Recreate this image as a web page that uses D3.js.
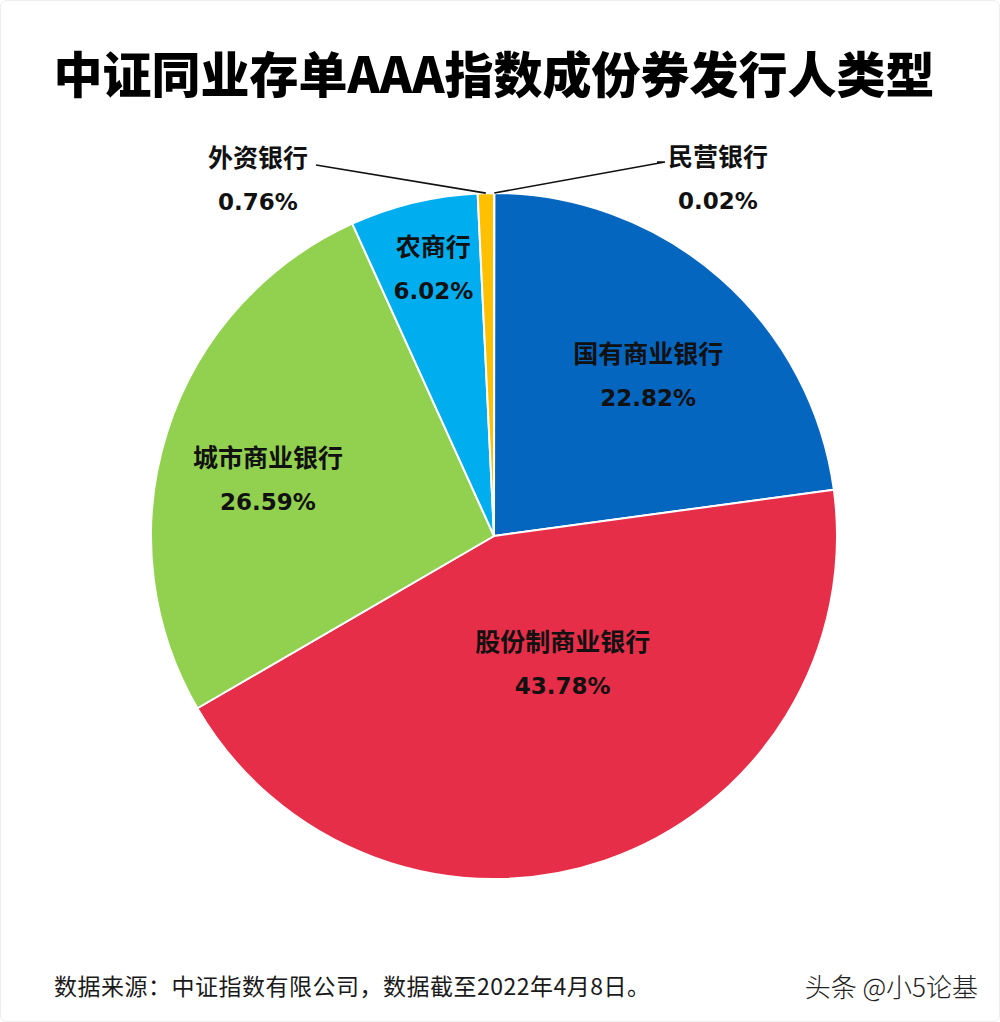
<!DOCTYPE html>
<html>
<head>
<meta charset="utf-8">
<script src="https://cdn.jsdelivr.net/npm/d3@7"></script>
<style>
  html, body { margin: 0; padding: 0; background: #fff; }
  svg { display: block; }
</style>
</head>
<body>
<svg id="chart" width="1000" height="1022"></svg>
<script>
// ---- data ----
const title = "中证同业存单AAA指数成份券发行人类型";
const categories = ["民营银行", "国有商业银行", "股份制商业银行", "城市商业银行", "农商行", "外资银行"];
const values = [0.02, 22.82, 43.78, 26.59, 6.02, 0.76];
const valueLabels = ["0.02%", "22.82%", "43.78%", "26.59%", "6.02%", "0.76%"];
const footnote = "数据来源：中证指数有限公司，数据截至2022年4月8日。";
const watermark = "头条 @小5论基";

// ---- styles / layout ----
const colors = ["#A5A5A5", "#0566BF", "#E62E48", "#92D050", "#00AEEF", "#FFC000"];
const cx = 494, cy = 536, R = 343;
// inside labels: [radius factor, angle shift deg]; outside labels: offset from centre
const labelLayout = [
  { outside: true, dx: 224, dy: -358, line: [[171, -374], [163, -374]] },
  { outside: false, k: 0.65, shift: 2.6 },
  { outside: false, k: 0.42, shift: -9.5 },
  { outside: false, k: 0.68, shift: -3.5 },
  { outside: false, k: 0.80, shift: 0.8 },
  { outside: true, dx: -236, dy: -357, line: [[-178, -371]] }
];

const svg = d3.select("#chart");

// faint frame
svg.append("rect").attr("x", 0.5).attr("y", 0.5).attr("width", 999).attr("height", 1021)
  .attr("rx", 6).attr("fill", "none").attr("stroke", "#ececec");

svg.append("text")
  .attr("x", 494).attr("y", 71)
  .attr("text-anchor", "middle").attr("dominant-baseline", "central")
  .attr("font-family", "'Noto Sans CJK SC', sans-serif")
  .attr("font-weight", 900).attr("font-size", 49).attr("fill", "#000")
  .text(title);

const data = categories.map((c, i) => ({ name: c, value: values[i], label: valueLabels[i], i }));
const pie = d3.pie().sort(null).value(d => d.value);
const arcs = pie(data);
const arc = d3.arc().innerRadius(0).outerRadius(R);

const g = svg.append("g").attr("transform", `translate(${cx},${cy})`);

g.selectAll("path.slice").data(arcs).enter().append("path")
  .attr("class", "slice")
  .attr("d", arc)
  .attr("fill", d => colors[d.data.i])
  .attr("stroke", "#fff").attr("stroke-width", 2).attr("stroke-linejoin", "round");

const nameFont = "'Noto Sans CJK SC', sans-serif";
const pctFont = "'DejaVu Sans', Verdana, sans-serif";

arcs.forEach(d => {
  const L = labelLayout[d.data.i];
  let x, y;
  const mid = (d.startAngle + d.endAngle) / 2;
  if (L.outside) {
    x = L.dx; y = L.dy;
    const p0 = [R * Math.sin(mid), -R * Math.cos(mid)];
    const pts = [p0].concat(L.line);
    g.append("path")
      .attr("d", d3.line()(pts))
      .attr("fill", "none").attr("stroke", "#111").attr("stroke-width", 1.6);
  } else {
    const a = mid + L.shift * Math.PI / 180;
    x = L.k * R * Math.sin(a);
    y = -L.k * R * Math.cos(a);
  }
  g.append("text")
    .attr("x", x).attr("y", y - 23)
    .attr("text-anchor", "middle").attr("dominant-baseline", "central")
    .attr("font-family", nameFont).attr("font-weight", 700).attr("font-size", 25)
    .attr("fill", "#111")
    .text(d.data.name);
  g.append("text")
    .attr("x", x).attr("y", y + 23)
    .attr("text-anchor", "middle").attr("dominant-baseline", "central")
    .attr("font-family", pctFont).attr("font-weight", 700).attr("font-size", 23)
    .attr("fill", "#111")
    .text(d.data.label);
});

svg.append("text")
  .attr("x", 54).attr("y", 985)
  .attr("dominant-baseline", "central")
  .attr("font-family", nameFont).attr("font-size", 23).attr("letter-spacing", 0.5).attr("fill", "#1a1a1a")
  .text(footnote);

svg.append("text")
  .attr("x", 978).attr("y", 985)
  .attr("text-anchor", "end").attr("dominant-baseline", "central")
  .attr("font-family", nameFont).attr("font-size", 26).attr("font-weight", 300).attr("fill", "#222")
  .text(watermark);
</script>
</body>
</html>
